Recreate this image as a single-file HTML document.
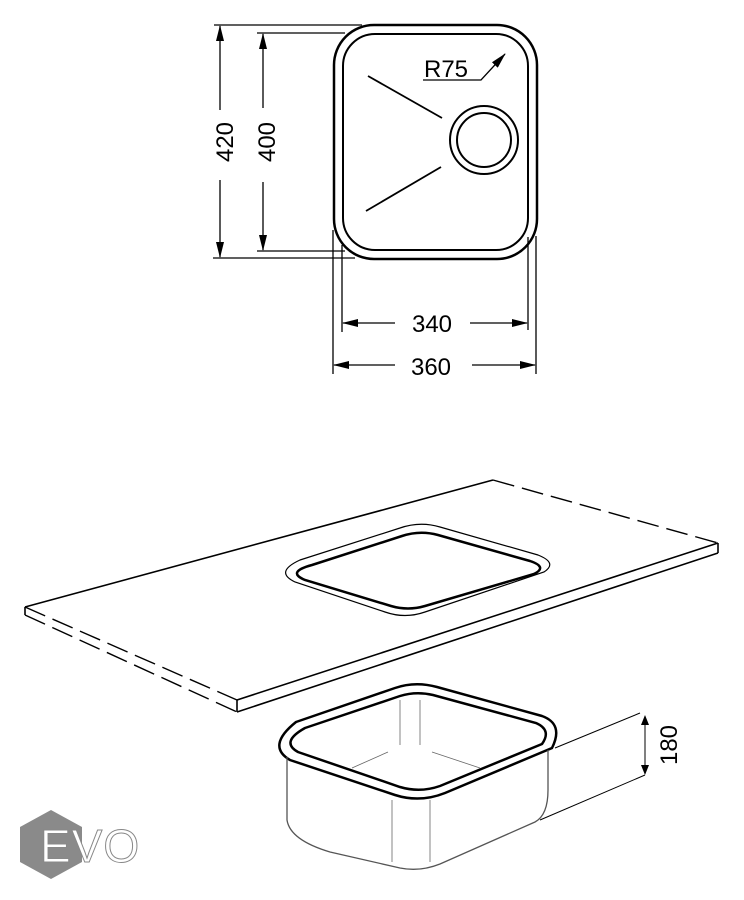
<!DOCTYPE html>
<html><head><style>body{margin:0;background:#fff}svg{display:block}</style></head><body>
<svg width="744" height="900" viewBox="0 0 744 900" xmlns="http://www.w3.org/2000/svg" font-family="Liberation Sans, sans-serif">
<defs><marker id="a" markerWidth="10" markerHeight="8" refX="9" refY="4" orient="auto" markerUnits="userSpaceOnUse"><path d="M0,0 L10,4 L0,8z" fill="#000"/></marker>
<marker id="b" markerWidth="16" markerHeight="8" refX="15" refY="4" orient="auto" markerUnits="userSpaceOnUse"><path d="M0,0 L16,4 L0,8z" fill="#000"/></marker></defs>
<g stroke="#000" fill="none">
<rect x="334" y="25" width="203" height="234" rx="40" stroke-width="2.5"/>
<rect x="343" y="34" width="185" height="216" rx="32" stroke-width="2"/>
<circle cx="484" cy="140" r="34" stroke-width="2"/>
<circle cx="484" cy="140" r="27" stroke-width="2"/>
<line x1="368" y1="76" x2="442" y2="118" stroke-width="1.8"/>
<line x1="366" y1="211" x2="441" y2="167" stroke-width="1.8"/>
<g stroke-width="1.3">
<line x1="214" y1="25" x2="362" y2="25"/><line x1="213" y1="258" x2="355" y2="258"/>
<line x1="257" y1="33" x2="345" y2="33"/><line x1="257" y1="251" x2="345" y2="251"/>
<line x1="333" y1="230" x2="333" y2="374"/><line x1="536" y1="236" x2="536" y2="374"/>
<line x1="342" y1="245" x2="342" y2="332"/><line x1="528" y1="237" x2="528" y2="330"/>
<line x1="220" y1="110" x2="220" y2="26" marker-end="url(#b)"/><line x1="220" y1="180" x2="220" y2="257" marker-end="url(#b)"/>
<line x1="263" y1="108" x2="263" y2="34" marker-end="url(#b)"/><line x1="263" y1="182" x2="263" y2="250" marker-end="url(#b)"/>
<line x1="395" y1="323" x2="343" y2="323" marker-end="url(#b)"/><line x1="470" y1="323" x2="527" y2="323" marker-end="url(#b)"/>
<line x1="395" y1="365" x2="334" y2="365" marker-end="url(#b)"/><line x1="472" y1="365" x2="535" y2="365" marker-end="url(#b)"/>
<polyline points="423,80 481,80 505,54" marker-end="url(#b)"/>
</g>
<g stroke-width="1.6">
<line x1="25" y1="607" x2="493" y2="480"/>
<line x1="237" y1="700" x2="718" y2="543"/>
<line x1="237" y1="712" x2="718" y2="553"/>
<line x1="718" y1="543" x2="718" y2="553"/>
<line x1="237" y1="700" x2="237" y2="712"/>
<line x1="25" y1="607" x2="25" y2="615"/>
<g stroke-dasharray="22,8" stroke-width="1.4">
<line x1="493" y1="480" x2="718" y2="543"/>
<line x1="25" y1="607" x2="237" y2="700"/>
<line x1="25" y1="615" x2="237" y2="712"/>
</g>
<path d="M300,560 L400,528 Q420,521 440,527 L538,555 Q558,563 544,572 L425,612 Q405,619 385,612 L295,582 Q274,572 300,560Z" stroke-width="1.2"/>
<path d="M312,565 L402,536 Q420,530 438,535 L530,561 Q548,567 534,574 L425,606 Q408,611 391,606 L305,580 Q286,572 312,565Z" stroke-width="2.5"/>
</g>
<g>
<path d="M296,722 L395,688 Q415,681 437,687 L542,716 Q564,724 552,748 L445,793 Q420,803 395,795 L290,760 Q266,746 296,722Z" stroke-width="2.5"/>
<path d="M305,728 L400,696 Q416,691 433,695 L536,723 Q552,730 542,744 L440,786 Q420,793 400,787 L298,752 Q280,742 305,728Z" stroke-width="2.5"/>
<path d="M287,757 L287,820 Q290,840 330,852 L400,868 Q420,872 440,864 L535,822 Q548,815 548,790 L548,750" stroke-width="1.3" stroke="#555"/>
<g stroke-width="0.8" stroke="#666">
<line x1="400" y1="700" x2="400" y2="745"/><line x1="420" y1="700" x2="420" y2="745"/>
<line x1="352" y1="768" x2="388" y2="752"/><line x1="432" y1="752" x2="480" y2="768"/>
<line x1="392" y1="800" x2="392" y2="862"/><line x1="430" y1="800" x2="430" y2="862"/>
</g>
<g stroke-width="1">
<line x1="555" y1="748" x2="640" y2="713"/><line x1="540" y1="820" x2="645" y2="775"/>
<line x1="645" y1="745" x2="645" y2="716" marker-end="url(#a)"/><line x1="645" y1="745" x2="645" y2="774" marker-end="url(#a)"/>
</g>
</g>
</g>
<g font-size="24" fill="#000">
<text x="233" y="142" text-anchor="middle" transform="rotate(-90 233 142)">420</text>
<text x="275" y="142" text-anchor="middle" transform="rotate(-90 275 142)">400</text>
<text x="432" y="332" text-anchor="middle">340</text>
<text x="431" y="375" text-anchor="middle">360</text>
<text x="424" y="77">R75</text>
<text x="677" y="745" text-anchor="middle" transform="rotate(-90 677 745)">180</text>
</g>
<polygon points="51,810 82,827 82,862 51,879 20,862 20,827" fill="#8a8a8a"/>
<text x="40" y="862" font-size="46" fill="#fff" stroke="#888" stroke-width="1" letter-spacing="1">EVO</text>
</svg>
</body></html>
